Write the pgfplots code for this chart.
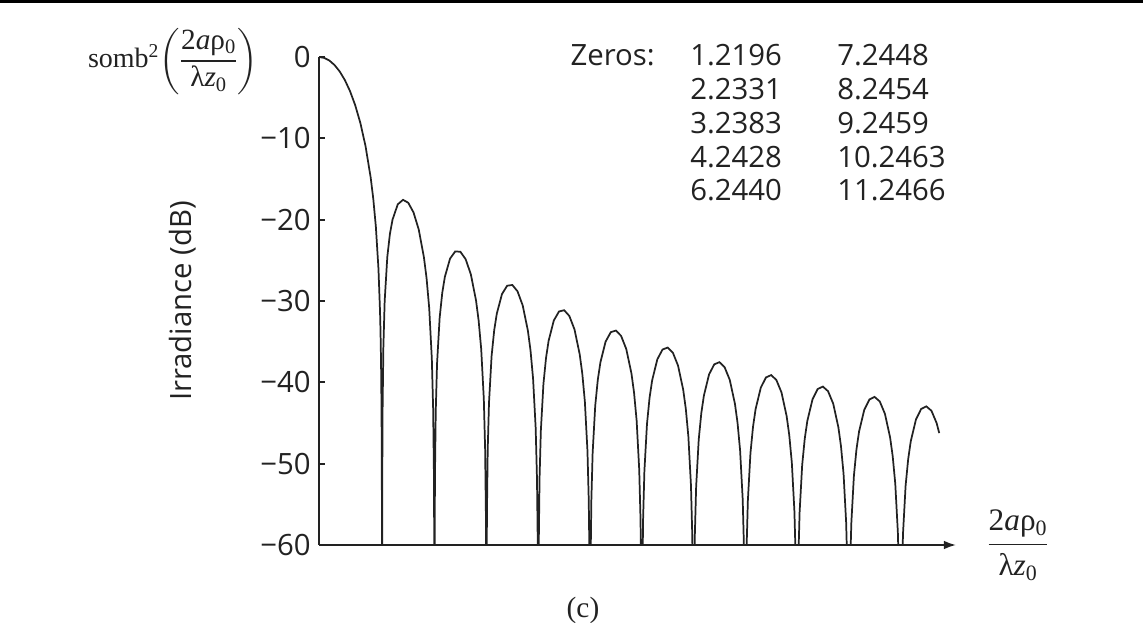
\documentclass[border=0pt]{standalone}
\usepackage{fontspec}
\usepackage{amsmath}
\usepackage{pgfplots}
\pgfplotsset{compat=1.18}
\usetikzlibrary{arrows.meta}
\setmainfont{Liberation Serif}
\newfontfamily\osans{Open Sans}
\definecolor{ink}{HTML}{222222}
\newcommand{\numfont}{\osans\fontsize{22}{26}\selectfont}
\newcommand{\frfont}{\fontsize{23.5}{28}\selectfont}
\newcommand{\argfrac}{\genfrac{}{}{1.1pt}{0}{\text{2\textit{a}ρ\textsubscript{0}}}{\text{λ\textit{z}\textsubscript{0}}}}
\begin{document}
\begin{tikzpicture}
\useasboundingbox (0,0) rectangle (857.25pt,466.5pt);
\fill[black] (0,464.25pt) rectangle (857.25pt,466.5pt);
\begin{axis}[
  at={(239.25pt,57.75pt)}, anchor=south west,
  scale only axis, width=477.7pt, height=366pt,
  xmin=0, xmax=12.32, ymin=-60, ymax=0,
  axis x line=bottom, axis y line=left,
  axis line style={line width=1.3pt, color=ink},
  x axis line style={-{Latex[length=9pt,width=6.5pt]}},
  y axis line style={-},
  xtick=\empty,
  ytick={-60,-50,-40,-30,-20,-10,0},
  yticklabels={−60,−50,−40,−30,−20,−10,0},
  yticklabel style={font=\numfont, inner sep=0pt, xshift=-6pt, text=ink},
  tick align=inside, major tick length=4.5pt,
  ytick style={line width=1.3pt, color=ink},
]
\addplot[ink, line width=1.3pt] coordinates {
(0,0) (0.1,-0.107) (0.2,-0.432) (0.3,-0.983) (0.4,-1.775) (0.5,-2.833) (0.6,-4.195) (0.7,-5.922) (0.8,-8.113) (0.9,-10.955) (1.0,-14.84) (1.05,-17.44) (1.1,-20.88) (1.15,-26.03) (1.18,-31.20) (1.19,-33.81) (1.2,-37.47) (1.21,-43.70) (1.217,-54.94) (1.2197,-70)
(1.2227,-53.88) (1.2298,-43.51) (1.2450,-35.72) (1.2704,-29.99) (1.3210,-24.59) (1.3717,-21.75) (1.4224,-19.99) (1.5237,-18.11) (1.6251,-17.56) (1.7264,-17.92) (1.8277,-19.10) (1.9291,-21.21) (2.0304,-24.66) (2.0811,-27.23) (2.1318,-30.88) (2.1824,-37.10) (2.2078,-43.25) (2.2230,-51.29) (2.2301,-61.78) (2.2331,-70)
(2.2361,-61.82) (2.2432,-51.41) (2.2582,-43.55) (2.2834,-37.69) (2.3336,-32.07) (2.3839,-29.01) (2.4341,-27.04) (2.5347,-24.79) (2.6352,-23.90) (2.7357,-23.95) (2.8362,-24.86) (2.9367,-26.71) (3.0373,-29.93) (3.0875,-32.39) (3.1378,-35.94) (3.1880,-42.05) (3.2131,-48.16) (3.2282,-56.17) (3.2353,-66.65) (3.2383,-70)
(3.2413,-66.67) (3.2483,-56.22) (3.2634,-48.27) (3.2884,-42.47) (3.3386,-36.75) (3.3887,-33.61) (3.4389,-31.56) (3.5391,-29.15) (3.6394,-28.12) (3.7397,-28.03) (3.8400,-28.81) (3.9403,-30.55) (4.0405,-33.65) (4.0907,-36.05) (4.1408,-39.55) (4.1910,-45.62) (4.2161,-51.77) (4.2311,-59.72) (4.2381,-70.17) (4.2411,-70)
(4.2441,-70.18) (4.2511,-59.73) (4.2661,-51.78) (4.2912,-45.94) (4.3413,-40.18) (4.3914,-36.99) (4.4414,-34.89) (4.5416,-32.40) (4.6418,-31.29) (4.7420,-31.13) (4.8421,-31.84) (4.9423,-33.50) (5.0425,-36.55) (5.0925,-38.91) (5.1426,-42.38) (5.1927,-48.42) (5.2178,-54.54) (5.2328,-62.49) (5.2428,-70)
(5.2528,-62.50) (5.2678,-54.55) (5.2929,-48.67) (5.3429,-42.88) (5.3930,-39.67) (5.4430,-37.55) (5.5431,-35.00) (5.6432,-33.84) (5.7434,-33.63) (5.8435,-34.29) (5.9436,-35.91) (6.0437,-38.91) (6.0937,-41.26) (6.1438,-44.70) (6.1938,-50.72) (6.2189,-56.82) (6.2339,-64.77) (6.2439,-70)
(6.2539,-64.78) (6.2689,-56.83) (6.2939,-50.93) (6.3440,-45.12) (6.3940,-41.89) (6.4441,-39.75) (6.5442,-37.17) (6.6443,-35.97) (6.7444,-35.72) (6.8444,-36.35) (6.9445,-37.94) (7.0446,-40.91) (7.0947,-43.24) (7.1447,-46.67) (7.1948,-52.67) (7.2198,-58.76) (7.2348,-66.71) (7.2448,-70)
(7.2548,-66.71) (7.2698,-58.76) (7.2948,-52.85) (7.3449,-47.03) (7.3949,-43.78) (7.4449,-41.63) (7.5450,-39.02) (7.6450,-37.79) (7.7451,-37.52) (7.8452,-38.13) (7.9452,-39.70) (8.0453,-42.64) (8.0953,-44.96) (8.1453,-48.38) (8.1954,-54.37) (8.2204,-60.45) (8.2454,-70)
(8.2704,-60.45) (8.2954,-54.53) (8.3455,-48.70) (8.3955,-45.44) (8.4455,-43.27) (8.5456,-40.65) (8.6456,-39.40) (8.7457,-39.11) (8.8457,-39.70) (8.9458,-41.24) (9.0458,-44.17) (9.0958,-46.48) (9.1459,-49.89) (9.1959,-55.87) (9.2209,-61.94) (9.2459,-70)
(9.2709,-61.94) (9.2959,-56.01) (9.3459,-50.17) (9.3960,-46.90) (9.4460,-44.73) (9.5460,-42.09) (9.6461,-40.82) (9.7461,-40.52) (9.8461,-41.09) (9.9462,-42.62) (10.0462,-45.53) (10.0962,-47.84) (10.1463,-51.24) (10.1963,-57.22) (10.2213,-63.28) (10.2463,-70)
(10.2713,-63.28) (10.2963,-57.35) (10.3463,-51.50) (10.3963,-48.22) (10.4464,-46.04) (10.5464,-43.39) (10.6464,-42.11) (10.7465,-41.79) (10.8465,-42.35) (10.9465,-43.87) (11.0465,-46.77) (11.0966,-49.07) (11.1466,-52.47) (11.1966,-58.44) (11.2216,-64.50) (11.2466,-70)
(11.2716,-64.49) (11.2966,-58.55) (11.3466,-52.70) (11.3966,-49.42) (11.4466,-47.23) (11.5467,-44.57) (11.6467,-43.28) (11.7467,-42.95) (11.8467,-43.50) (11.9467,-45.01) (11.9968,-46.24)
};
\end{axis}
\node[font=\numfont, text=ink, rotate=90] at (137.25pt,240.75pt) {Irradiance (dB)};
\node[font=\fontsize{21}{25}\selectfont, text=ink, inner sep=0pt] at (129.75pt,421pt) {somb\textsuperscript{2}{\fontsize{22}{26}\selectfont$\left(\rule[-0.9em]{0pt}{2.3em}\argfrac\right)$}};
\node[font=\frfont, text=ink, inner sep=0pt] at (763.5pt,57.75pt) {$\argfrac$};
\node[font=\fontsize{22}{26}\selectfont, text=ink, inner sep=0pt] at (437.25pt,9pt) {(c)};
\node[font=\numfont, text=ink, anchor=east, inner sep=0pt] at (491.25pt,425.25pt) {Zeros:};
\foreach \y/\a/\b in {425.25/1.2196/7.2448, 399.75/2.2331/8.2454, 374.25/3.2383/9.2459, 348.75/4.2428/10.2463, 324/6.2440/11.2466}{
  \node[font=\numfont, text=ink, anchor=west, inner sep=0pt] at (517.5pt,\y pt) {\a};
  \node[font=\numfont, text=ink, anchor=west, inner sep=0pt] at (627.75pt,\y pt) {\b};
}
\end{tikzpicture}
\end{document}
